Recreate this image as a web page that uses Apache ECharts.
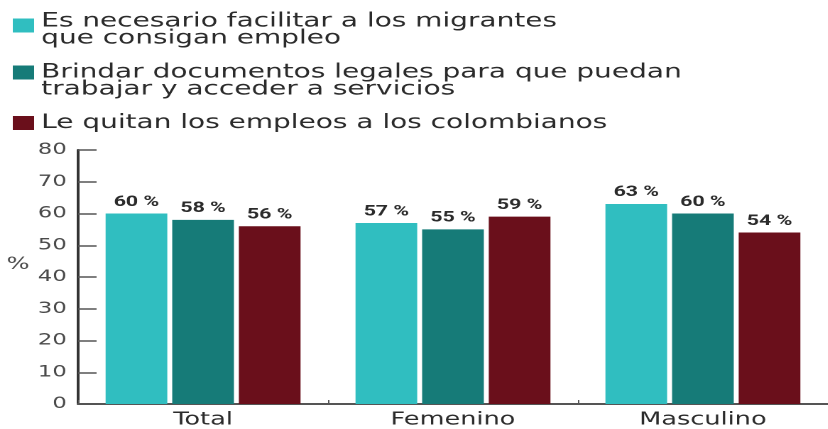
<!DOCTYPE html>
<html>
<head>
<meta charset="utf-8">
<script src="https://cdn.jsdelivr.net/npm/echarts@6/dist/echarts.min.js"></script>
<style>
html,body{margin:0;padding:0;background:#fff;overflow:hidden;width:828px;height:429px}
#c{width:583px;height:429px;transform:scaleX(1.42);transform-origin:0 0}
</style>
</head>
<body>
<div id="c"></div>
<script>
var categories = ['Total', 'Femenino', 'Masculino'];
var seriesNames = [
  'Es necesario facilitar a los migrantes\nque consigan empleo',
  'Brindar documentos legales para que puedan\ntrabajar y acceder a servicios',
  'Le quitan los empleos a los colombianos'
];
var facilitar = [60, 57, 63];
var documentos = [58, 55, 60];
var quitan = [56, 59, 54];
var yTicks = [0, 10, 20, 30, 40, 50, 60, 70, 80];
var colors = ['#30BEC0', '#167B78', '#6A0F1B'];

var chart = echarts.init(document.getElementById('c'), null, {renderer: 'canvas', devicePixelRatio: 2});
var FONT = 'DejaVu Sans';
function mkLegend(i, top, spacer) {
  var multi = seriesNames[i].indexOf('\n') >= 0;
  return {
    data: [seriesNames[i]],
    left: 9, top: top, padding: 0,
    itemWidth: 15, itemHeight: 14, itemGap: 0,
    icon: 'rect',
    selectedMode: false,
    formatter: function (name) {
      if (!multi) return '{t|' + name + '}';
      return '{s| }\n' + name.split('\n').map(function (l) { return '{t|' + l + '}'; }).join('\n');
    },
    textStyle: {
      fontFamily: FONT, fontSize: 19.7, color: '#2b2b2b', lineHeight: 17,
      rich: {
        s: {fontSize: 1, lineHeight: spacer, height: spacer},
        t: {fontFamily: FONT, fontSize: 19.7, color: '#2b2b2b', lineHeight: 17}
      }
    }
  };
}
var vals = [facilitar, documentos, quitan];
var series = vals.map(function (v, i) {
  return {
    name: seriesNames[i], type: 'bar', data: v,
    barGap: '8%', barCategoryGap: '22%',
    itemStyle: {color: colors[i]},
    label: {
      show: true, position: 'top', distance: 4,
      formatter: '{c} %', fontFamily: 'Roboto', fontWeight: 'bold',
      fontSize: 15, color: '#2b2b2b'
    }
  };
});
chart.setOption({
  animation: false,
  legend: [mkLegend(0, 4, 9), mkLegend(1, 47, 17), mkLegend(2, 113, 9)],
  grid: {left: 55, right: -4, top: 150, bottom: 25, containLabel: false},
  xAxis: {
    type: 'category', data: categories,
    axisLine: {lineStyle: {color: '#555', width: 2}},
    axisTick: {show: true, inside: true, length: 4, lineStyle: {color: '#555'}},
    axisLabel: {fontFamily: FONT, fontSize: 18, color: '#2b2b2b', margin: 7}
  },
  yAxis: {
    type: 'value', min: 0, max: 80, interval: 10,
    name: '%', nameLocation: 'middle', nameGap: 42, nameRotate: 0,
    nameTextStyle: {fontFamily: FONT, fontSize: 17, color: '#4a4a4a', align: 'center', verticalAlign: 'bottom', padding: [0, 0, 4, 0]},
    axisLine: {show: true, lineStyle: {color: '#333', width: 2}},
    axisTick: {show: true, inside: true, length: 13, lineStyle: {color: '#555', width: 1.5}},
    splitLine: {show: false},
    axisLabel: {
      fontFamily: FONT, fontSize: 16, color: '#4a4a4a', margin: 8,
      formatter: function (v) { return yTicks.indexOf(v) >= 0 ? String(v) : ''; }
    }
  },
  series: series
});
</script>
</body>
</html>
